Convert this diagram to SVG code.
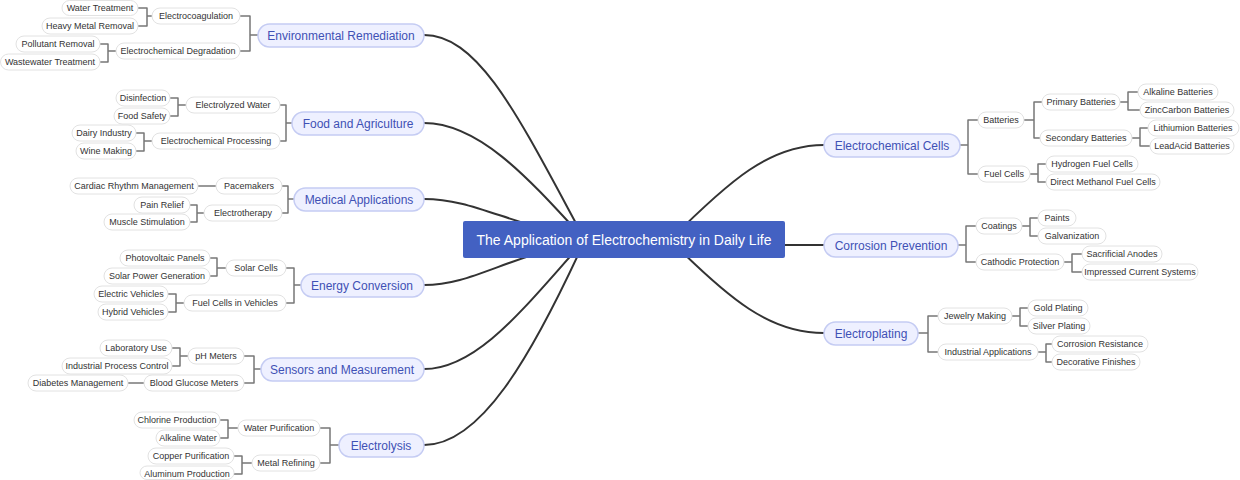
<svg xmlns="http://www.w3.org/2000/svg" width="1240" height="480" viewBox="0 0 1240 480">
<style>
text{font-family:"Liberation Sans",Arial,sans-serif;text-anchor:middle;dominant-baseline:central}
.s rect{fill:#fff;stroke:#e2e2e2;stroke-width:1}
.s text{font-size:9px;fill:#333}
.l rect{fill:#eef0ff;stroke:#c5ccf3;stroke-width:1.5}
.l text{font-size:12px;fill:#3f51b5}
.b{fill:none;stroke:#777;stroke-width:1.5;stroke-linejoin:round}
.m{fill:none;stroke:#333;stroke-width:2}
</style>
<rect width="1240" height="480" fill="#fff"/>
<g id="connectors">
<path class="m" d="M424,35 C480,35 520,120 585,240"/>
<path class="m" d="M424,123 C480,123 530,180 585,240"/>
<path class="m" d="M424,199 C470,199 500,220 585,240"/>
<path class="m" d="M424,285 C470,285 500,260 585,240"/>
<path class="m" d="M424,369 C480,369 530,300 585,240"/>
<path class="m" d="M424,445 C480,445 530,360 585,240"/>
<path class="m" d="M824,145 C770,145 730,180 670,240"/>
<path class="m" d="M785,245 L824,245"/>
<path class="m" d="M824,333 C770,333 730,300 670,240"/>
<g class="b">
<path d="M258,35 H250 M240,16 H250 V51 H240"/>
<path d="M152,16 H147 M138,8 H147 V26 H138"/>
<path d="M116,51 H108 M100,44 H108 V62 H100"/>
<path d="M292,123 H286 M280,105 H286 V141 H280"/>
<path d="M186,105 H178 M170,98 H178 V116 H170"/>
<path d="M152,141 H144 M136,133 H144 V151 H136"/>
<path d="M294,199 H288 M282,186 H288 V213 H282"/>
<path d="M216,186 H198"/>
<path d="M204,213 H197 M190,205 H197 V222 H190"/>
<path d="M301,285 H294 M286,268 H294 V303 H286"/>
<path d="M226,268 H217 M210,258 H217 V276 H210"/>
<path d="M184,303 H176 M168,294 H176 V312 H168"/>
<path d="M261,369 H254 M244,356 H254 V383 H244"/>
<path d="M188,356 H180 M172,348 H180 V366 H172"/>
<path d="M144,383 H128"/>
<path d="M339,445 H330 M320,428 H330 V463 H320"/>
<path d="M238,428 H228 M220,420 H228 V438 H220"/>
<path d="M252,463 H242 M234,456 H242 V474 H234"/>
<path d="M960,145 H968 M978,120 H968 V174 H978"/>
<path d="M1024,120 H1034 M1042,102 H1034 V138 H1040"/>
<path d="M1120,102 H1128 M1138,92 H1128 V110 H1140"/>
<path d="M1132,138 H1140 M1148,128 H1140 V146 H1150"/>
<path d="M1030,174 H1038 M1046,164 H1038 V182 H1046"/>
<path d="M958,245 H966 M976,226 H966 V262 H976"/>
<path d="M1022,226 H1030 M1038,218 H1030 V236 H1038"/>
<path d="M1064,262 H1072 M1082,254 H1072 V272 H1082"/>
<path d="M918,333 H928 M938,316 H928 V352 H938"/>
<path d="M1012,316 H1020 M1028,308 H1020 V326 H1028"/>
<path d="M1038,352 H1046 M1052,344 H1046 V362 H1052"/>
</g>
</g>
<g id="root"><rect x="463" y="221" width="322" height="37" rx="2" fill="#4361c2"/><text x="624" y="240" font-size="14" fill="#fff">The Application of Electrochemistry in Daily Life</text></g>
<g class="l">
<g id="n-env"><rect x="258" y="24" width="166" height="23" rx="11.5"/><text x="341" y="35.5">Environmental Remediation</text></g>
<g id="n-food"><rect x="292" y="112" width="132" height="23" rx="11.5"/><text x="358" y="123.5">Food and Agriculture</text></g>
<g id="n-med"><rect x="294" y="188" width="130" height="23" rx="11.5"/><text x="359" y="199.5">Medical Applications</text></g>
<g id="n-energy"><rect x="301" y="274" width="123" height="23" rx="11.5"/><text x="362" y="285.5">Energy Conversion</text></g>
<g id="n-sens"><rect x="261" y="358" width="163" height="23" rx="11.5"/><text x="342" y="369.5">Sensors and Measurement</text></g>
<g id="n-elys"><rect x="339" y="434" width="85" height="23" rx="11.5"/><text x="381" y="445.5">Electrolysis</text></g>
<g id="n-cells"><rect x="824" y="134" width="136" height="23" rx="11.5"/><text x="892" y="145.5">Electrochemical Cells</text></g>
<g id="n-corr"><rect x="824" y="234" width="134" height="23" rx="11.5"/><text x="891" y="245.5">Corrosion Prevention</text></g>
<g id="n-plat"><rect x="824" y="322" width="94" height="23" rx="11.5"/><text x="871" y="333.5">Electroplating</text></g>
</g>
<g class="s">
<g id="n1"><rect x="152" y="8" width="88" height="16" rx="8"/><text x="196" y="16">Electrocoagulation</text></g>
<g id="n2"><rect x="62" y="0.5" width="76" height="15" rx="7.5"/><text x="100" y="8">Water Treatment</text></g>
<g id="n3"><rect x="42" y="18" width="96" height="16" rx="8"/><text x="90" y="26">Heavy Metal Removal</text></g>
<g id="n4"><rect x="116" y="43" width="124" height="16" rx="8"/><text x="178" y="51">Electrochemical Degradation</text></g>
<g id="n5"><rect x="16" y="36" width="84" height="16" rx="8"/><text x="58" y="44">Pollutant Removal</text></g>
<g id="n6"><rect x="0.5" y="54" width="99.5" height="16" rx="8"/><text x="50" y="62">Wastewater Treatment</text></g>
<g id="n7"><rect x="186" y="97" width="94" height="16" rx="8"/><text x="233" y="105">Electrolyzed Water</text></g>
<g id="n8"><rect x="116" y="90" width="54" height="16" rx="8"/><text x="143" y="98">Disinfection</text></g>
<g id="n9"><rect x="114" y="108" width="56" height="16" rx="8"/><text x="142" y="116">Food Safety</text></g>
<g id="n10"><rect x="152" y="133" width="128" height="16" rx="8"/><text x="216" y="141">Electrochemical Processing</text></g>
<g id="n11"><rect x="72" y="125" width="64" height="16" rx="8"/><text x="104" y="133">Dairy Industry</text></g>
<g id="n12"><rect x="76" y="143" width="60" height="16" rx="8"/><text x="106" y="151">Wine Making</text></g>
<g id="n13"><rect x="216" y="178" width="66" height="16" rx="8"/><text x="249" y="186">Pacemakers</text></g>
<g id="n14"><rect x="70" y="178" width="128" height="16" rx="8"/><text x="134" y="186">Cardiac Rhythm Management</text></g>
<g id="n15"><rect x="204" y="205" width="78" height="16" rx="8"/><text x="243" y="213">Electrotherapy</text></g>
<g id="n16"><rect x="134" y="197" width="56" height="16" rx="8"/><text x="162" y="205">Pain Relief</text></g>
<g id="n17"><rect x="104" y="214" width="86" height="16" rx="8"/><text x="147" y="222">Muscle Stimulation</text></g>
<g id="n18"><rect x="226" y="260" width="60" height="16" rx="8"/><text x="256" y="268">Solar Cells</text></g>
<g id="n19"><rect x="120" y="250" width="90" height="16" rx="8"/><text x="165" y="258">Photovoltaic Panels</text></g>
<g id="n20"><rect x="104" y="268" width="106" height="16" rx="8"/><text x="157" y="276">Solar Power Generation</text></g>
<g id="n21"><rect x="184" y="295" width="102" height="16" rx="8"/><text x="235" y="303">Fuel Cells in Vehicles</text></g>
<g id="n22"><rect x="94" y="286" width="74" height="16" rx="8"/><text x="131" y="294">Electric Vehicles</text></g>
<g id="n23"><rect x="98" y="304" width="70" height="16" rx="8"/><text x="133" y="312">Hybrid Vehicles</text></g>
<g id="n24"><rect x="188" y="348" width="56" height="16" rx="8"/><text x="216" y="356">pH Meters</text></g>
<g id="n25"><rect x="100" y="340" width="72" height="16" rx="8"/><text x="136" y="348">Laboratory Use</text></g>
<g id="n26"><rect x="62" y="358" width="110" height="16" rx="8"/><text x="117" y="366">Industrial Process Control</text></g>
<g id="n27"><rect x="144" y="375" width="100" height="16" rx="8"/><text x="194" y="383">Blood Glucose Meters</text></g>
<g id="n28"><rect x="28" y="375" width="100" height="16" rx="8"/><text x="78" y="383">Diabetes Management</text></g>
<g id="n29"><rect x="238" y="420" width="82" height="16" rx="8"/><text x="279" y="428">Water Purification</text></g>
<g id="n30"><rect x="134" y="412" width="86" height="16" rx="8"/><text x="177" y="420">Chlorine Production</text></g>
<g id="n31"><rect x="156" y="430" width="64" height="16" rx="8"/><text x="188" y="438">Alkaline Water</text></g>
<g id="n32"><rect x="252" y="455" width="68" height="16" rx="8"/><text x="286" y="463">Metal Refining</text></g>
<g id="n33"><rect x="148" y="448" width="86" height="16" rx="8"/><text x="191" y="456">Copper Purification</text></g>
<g id="n34"><rect x="140" y="466" width="94" height="13.5" rx="7"/><text x="187" y="474">Aluminum Production</text></g>
<g id="n35"><rect x="978" y="112" width="46" height="16" rx="8"/><text x="1001" y="120">Batteries</text></g>
<g id="n36"><rect x="1042" y="94" width="78" height="16" rx="8"/><text x="1081" y="102">Primary Batteries</text></g>
<g id="n37"><rect x="1138" y="84" width="80" height="16" rx="8"/><text x="1178" y="92">Alkaline Batteries</text></g>
<g id="n38"><rect x="1140" y="102" width="94" height="16" rx="8"/><text x="1187" y="110">ZincCarbon Batteries</text></g>
<g id="n39"><rect x="1040" y="130" width="92" height="16" rx="8"/><text x="1086" y="138">Secondary Batteries</text></g>
<g id="n40"><rect x="1148" y="120" width="91" height="16" rx="8"/><text x="1193" y="128">Lithiumion Batteries</text></g>
<g id="n41"><rect x="1150" y="138" width="84" height="16" rx="8"/><text x="1192" y="146">LeadAcid Batteries</text></g>
<g id="n42"><rect x="978" y="166" width="52" height="16" rx="8"/><text x="1004" y="174">Fuel Cells</text></g>
<g id="n43"><rect x="1046" y="156" width="92" height="16" rx="8"/><text x="1092" y="164">Hydrogen Fuel Cells</text></g>
<g id="n44"><rect x="1046" y="174" width="114" height="16" rx="8"/><text x="1103" y="182">Direct Methanol Fuel Cells</text></g>
<g id="n45"><rect x="976" y="218" width="46" height="16" rx="8"/><text x="999" y="226">Coatings</text></g>
<g id="n46"><rect x="1038" y="210" width="38" height="16" rx="8"/><text x="1057" y="218">Paints</text></g>
<g id="n47"><rect x="1038" y="228" width="68" height="16" rx="8"/><text x="1072" y="236">Galvanization</text></g>
<g id="n48"><rect x="976" y="254" width="88" height="16" rx="8"/><text x="1020" y="262">Cathodic Protection</text></g>
<g id="n49"><rect x="1082" y="246" width="80" height="16" rx="8"/><text x="1122" y="254">Sacrificial Anodes</text></g>
<g id="n50"><rect x="1082" y="264" width="116" height="16" rx="8"/><text x="1140" y="272">Impressed Current Systems</text></g>
<g id="n51"><rect x="938" y="308" width="74" height="16" rx="8"/><text x="975" y="316">Jewelry Making</text></g>
<g id="n52"><rect x="1028" y="300" width="60" height="16" rx="8"/><text x="1058" y="308">Gold Plating</text></g>
<g id="n53"><rect x="1028" y="318" width="62" height="16" rx="8"/><text x="1059" y="326">Silver Plating</text></g>
<g id="n54"><rect x="938" y="344" width="100" height="16" rx="8"/><text x="988" y="352">Industrial Applications</text></g>
<g id="n55"><rect x="1052" y="336" width="96" height="16" rx="8"/><text x="1100" y="344">Corrosion Resistance</text></g>
<g id="n56"><rect x="1052" y="354" width="88" height="16" rx="8"/><text x="1096" y="362">Decorative Finishes</text></g>
</g>
</svg>
